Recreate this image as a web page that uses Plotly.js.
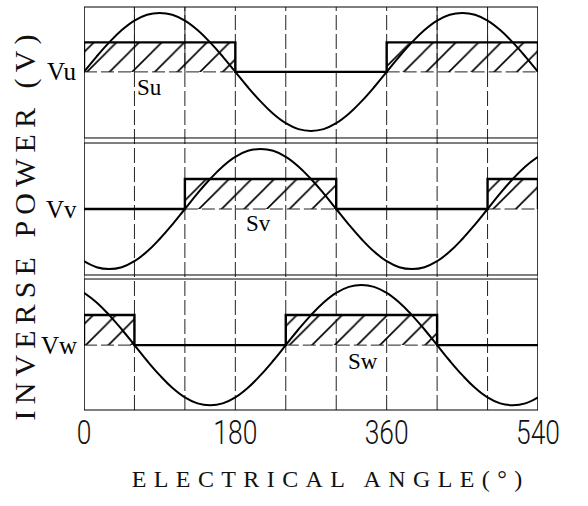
<!DOCTYPE html>
<html><head><meta charset="utf-8">
<script src="https://cdn.plot.ly/plotly-3.0.1.min.js"></script>
<style>html,body{margin:0;padding:0;background:#fff}#chart{width:588px;height:506px}</style>
</head><body><div id="chart"></div>
<script>
// ---- data ----
const angle = [0,15,30,45,60,75,90,105,120,135,150,165,180,195,210,225,240,255,270,285,300,315,330,345,360,375,390,405,420,435,450,465,480,495,510,525,540];
const vu = [0,.26,.5,.71,.87,.97,1,.97,.87,.71,.5,.26,0,-.26,-.5,-.71,-.87,-.97,-1,-.97,-.87,-.71,-.5,-.26,0,.26,.5,.71,.87,.97,1,.97,.87,.71,.5,.26,0];
const vv = [-.87,-.97,-1,-.97,-.87,-.71,-.5,-.26,0,.26,.5,.71,.87,.97,1,.97,.87,.71,.5,.26,0,-.26,-.5,-.71,-.87,-.97,-1,-.97,-.87,-.71,-.5,-.26,0,.26,.5,.71,.87];
const vw = [.87,.71,.5,.26,0,-.26,-.5,-.71,-.87,-.97,-1,-.97,-.87,-.71,-.5,-.26,0,.26,.5,.71,.87,.97,1,.97,.87,.71,.5,.26,0,-.26,-.5,-.71,-.87,-.97,-1,-.97,-.87];
const pulseLevel = 0.5;
const suOn = [[0,180],[360,540]];
const svOn = [[120,300],[480,540]];
const swOn = [[0,60],[240,420]];
const tickVals = [0,180,360,540];
const tickText = ['0','180','360','540'];
const gridAngles = [60,120,180,240,300,360,420,480];
const uSolidGrid = [60,120,420,480];
const phaseNames = ['Vu','Vv','Vw'];
const areaNames = ['Su','Sv','Sw'];
const areaLabelX = [78,208,332];
const areaLabelY = [-0.27,-0.24,-0.27];
const xTitle = 'ELECTRICAL ANGLE(°)';
const yTitle = 'INVERSE POWER (V)';

// ---- build ----
const waves = [vu, vv, vw];
const pulses = [suOn, svOn, swOn];
const yaxNames = ['y','y2','y3'];
const traces = [];
const serif = 'Liberation Serif, DejaVu Serif, serif';

for (let p = 0; p < 3; p++) {
  const ya = yaxNames[p];
  const on = pulses[p];
  on.forEach(([s,e]) => {
    traces.push({x:[s,s,e,e,s], y:[0,pulseLevel,pulseLevel,0,0], xaxis:'x', yaxis:ya,
      type:'scatter', mode:'lines', fill:'toself', fillcolor:'rgba(0,0,0,0)',
      fillpattern:{shape:'/', size:16, solidity:0.1, fgcolor:'#000'},
      line:{width:0, color:'rgba(0,0,0,0)'}, hoverinfo:'skip', showlegend:false});
    traces.push({x:[s,e], y:[0,0], xaxis:'x', yaxis:ya, type:'scatter', mode:'lines',
      line:{color:'#222', width:1, dash:'13px,4px'}, hoverinfo:'skip', showlegend:false});
  });
  const px = [0], py = [0];
  on.forEach(([s,e]) => { px.push(s,s,e,e); py.push(0,pulseLevel,pulseLevel,0); });
  px.push(540); py.push(0);
  traces.push({x:px, y:py, xaxis:'x', yaxis:ya, type:'scatter', mode:'lines',
    line:{color:'#000', width:2.4}, hoverinfo:'skip', showlegend:false});
  traces.push({x:angle, y:waves[p], xaxis:'x', yaxis:ya, type:'scatter', mode:'lines',
    line:{color:'#000', width:2, shape:'spline', smoothing:1.2}, hoverinfo:'skip', showlegend:false});
}

const shapes = [];
gridAngles.forEach(a => shapes.push({type:'line', xref:'x', yref:'paper', x0:a, x1:a, y0:0, y1:1,
  line:{color:'#222', width:1, dash:'15px,4px'}, layer:'below'}));
uSolidGrid.forEach(a => shapes.push({type:'line', xref:'x', yref:'y', x0:a, x1:a, y0:0, y1:1.2,
  line:{color:'#222', width:1}, layer:'below'}));
[0,540].forEach(a => shapes.push({type:'line', xref:'x', yref:'paper', x0:a, x1:a, y0:0, y1:1,
  line:{color:'#000', width:1}}));
yaxNames.forEach(ya => shapes.push({type:'rect', xref:'x', yref:ya+' domain', x0:0, x1:540, y0:0, y1:1,
  line:{color:'#000', width:1}, fillcolor:'rgba(0,0,0,0)'}));

const annotations = [];
for (let p = 0; p < 3; p++) {
  annotations.push({text:phaseNames[p], xref:'paper', x:0, xanchor:'right', xshift:-5,
    yref:yaxNames[p], y:0, yanchor:'middle', showarrow:false, font:{family:serif, size:25, color:'#000'}});
  annotations.push({text:areaNames[p], xref:'x', x:areaLabelX[p], xanchor:'center',
    yref:yaxNames[p], y:areaLabelY[p], yanchor:'middle', showarrow:false, font:{family:serif, size:23, color:'#000'}});
}
annotations.push({text:xTitle, xref:'paper', x:0.542, xanchor:'center', yref:'paper', y:-0.172, yanchor:'middle',
  showarrow:false, font:{family:serif, size:24, color:'#111'}});
annotations.push({text:yTitle, xref:'paper', x:-0.13, xanchor:'center', yref:'paper', y:0.46, yanchor:'middle',
  textangle:-90, showarrow:false, font:{family:serif, size:30, color:'#111'}});

const yBase = {showgrid:false, zeroline:false, showticklabels:false, ticks:'', showline:false, fixedrange:true};
const layout = {
  width:588, height:506, margin:{l:84, r:50, t:7, b:96},
  paper_bgcolor:'#fff', plot_bgcolor:'#fff', showlegend:false,
  xaxis:{range:[0,540], anchor:'y3', tickvals:tickVals, ticktext:tickText, ticks:'', showgrid:false,
    zeroline:false, showline:false, ticklabelstandoff:0,
    tickfont:{family:'Roboto, DejaVu Sans, sans-serif', weight:300, size:33, color:'#111'}},
  yaxis:Object.assign({domain:[0.675,1], range:[-1.12,1.10]}, yBase),
  yaxis2:Object.assign({domain:[0.335,0.6625], range:[-1.1,1.1]}, yBase),
  yaxis3:Object.assign({domain:[0,0.325], range:[-1.08,1.1]}, yBase),
  shapes:shapes, annotations:annotations
};

Plotly.newPlot('chart', traces, layout, {staticPlot:true}).then(gd => {
  gd.querySelectorAll('.annotation-text').forEach(t => {
    const s = t.textContent;
    if (s === xTitle) t.style.letterSpacing = '7.4px';
    if (s === yTitle) t.style.letterSpacing = '6.1px';
  });
  gd.querySelectorAll('.xtick text').forEach(t => {
    const tr = t.getAttribute('transform') || '';
    t.setAttribute('transform', tr + ' scale(0.8,1)');
  });
});
</script></body></html>
